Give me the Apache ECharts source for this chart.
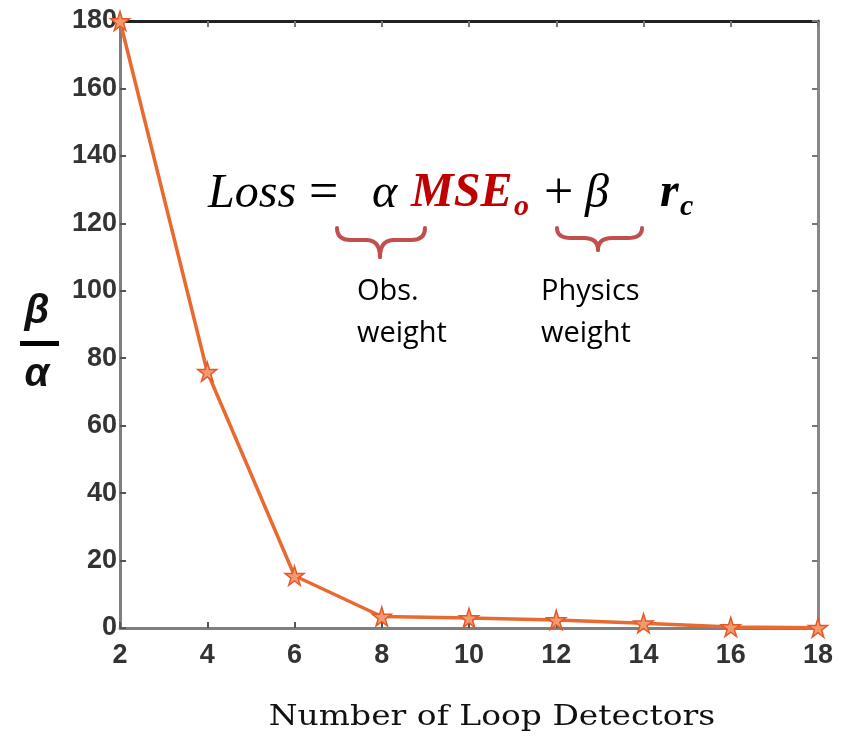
<!DOCTYPE html>
<html><head><meta charset="utf-8">
<script src="https://cdn.jsdelivr.net/npm/echarts@6/dist/echarts.min.js"></script>
<style>html,body{margin:0;padding:0;background:#fff}#c{width:854px;height:749px}</style>
</head><body><div id="c"></div>
<script>
const detectors = [2, 4, 6, 8, 10, 12, 14, 16, 18];
const ratio = [180, 76, 15.5, 3.4, 3.0, 2.4, 1.4, 0.3, 0.1];
const xTicks = [2, 4, 6, 8, 10, 12, 14, 16, 18];
const yTicks = [0, 20, 40, 60, 80, 100, 120, 140, 160, 180];
const xTitle = 'Number of Loop Detectors';

const chart = echarts.init(document.getElementById('c'));
const star = 'path://M50,0 L61,35 L98,35 L68,57 L79,91 L50,70 L21,91 L32,57 L2,35 L39,35 Z';
const tickLbl = {fontFamily:'Liberation Sans, Arial', fontWeight:'bold', fontSize:27, color:'#333'};
const braceColor = '#c0504d';
const serifIt = 'italic 48px "Liberation Serif", "Times New Roman", serif';
const serifR = '52px "Liberation Serif", "Times New Roman", serif';
const serifBI = 'italic bold 48px "Liberation Serif", "Times New Roman", serif';
const serifBIs = 'italic bold 30px "Liberation Serif", "Times New Roman", serif';
const sans = '29px "Open Sans", "Noto Sans", sans-serif';
function t(x, y, text, font, fill, align) {
  return {type:'text', x:x, y:y, z:10, style:{text:text, font:font, fill:fill||'#000', align:align||'left', verticalAlign:'bottom'}};
}
function brace(xl, xm, xr, yt, yh, ytip) {
  const st = {stroke:braceColor, lineWidth:4, fill:null, lineCap:'round'};
  const r = 14;
  return [
    {type:'bezierCurve', z:10, shape:{x1:xl, y1:yt, cpx1:xl, cpy1:yh, x2:xl+r, y2:yh}, style:st},
    {type:'line', z:10, shape:{x1:xl+r, y1:yh, x2:xm-r, y2:yh}, style:st},
    {type:'bezierCurve', z:10, shape:{x1:xm-r, y1:yh, cpx1:xm, cpy1:yh, x2:xm, y2:ytip}, style:st},
    {type:'bezierCurve', z:10, shape:{x1:xm, y1:ytip, cpx1:xm, cpy1:yh, x2:xm+r, y2:yh}, style:st},
    {type:'line', z:10, shape:{x1:xm+r, y1:yh, x2:xr-r, y2:yh}, style:st},
    {type:'bezierCurve', z:10, shape:{x1:xr-r, y1:yh, cpx1:xr, cpy1:yh, x2:xr, y2:yt}, style:st}
  ];
}
chart.setOption({
  animation:false,
  grid:{left:120, right:36, top:21, bottom:121},
  xAxis:[{
    type:'value', position:'bottom', min:xTicks[0], max:xTicks[xTicks.length-1], interval:2,
    axisLine:{onZero:false, lineStyle:{color:'#7f7f7f', width:3}},
    axisTick:{inside:true, length:6, lineStyle:{color:'#555', width:2}},
    axisLabel:Object.assign({margin:14}, tickLbl),
    splitLine:{show:false}
  },{
    type:'value', position:'top', min:xTicks[0], max:xTicks[xTicks.length-1], interval:2,
    axisLine:{onZero:false, lineStyle:{color:'#222', width:3}},
    axisTick:{inside:true, length:6, lineStyle:{color:'#777', width:2}},
    axisLabel:{show:false}, splitLine:{show:false}
  }],
  yAxis:[{
    type:'value', position:'left', min:yTicks[0], max:yTicks[yTicks.length-1], interval:20,
    axisLine:{show:true, onZero:false, lineStyle:{color:'#7f7f7f', width:3}},
    axisTick:{show:true, inside:true, length:6, lineStyle:{color:'#555', width:2}},
    axisLabel:Object.assign({margin:3}, tickLbl),
    splitLine:{show:false}
  },{
    type:'value', position:'right', min:yTicks[0], max:yTicks[yTicks.length-1], interval:20,
    axisLine:{show:true, onZero:false, lineStyle:{color:'#888', width:3}},
    axisTick:{show:true, inside:true, length:6, lineStyle:{color:'#777', width:2}},
    axisLabel:{show:false}, splitLine:{show:false}
  }],
  series:[{
    type:'line', xAxisIndex:0, yAxisIndex:0, data:detectors.map((d,i)=>[d, ratio[i]]),
    symbol:star, symbolSize:19,
    lineStyle:{color:'#e86a30', width:3.5},
    itemStyle:{color:'#f39a6e', borderColor:'#e4582a', borderWidth:1.5},
    z:5
  }],
  graphic:[
    t(208, 218, 'Loss', serifIt),
    t(309, 220, '=', serifR),
    t(372, 218, 'α', serifIt),
    t(411, 218, 'MSE', serifBI, '#c00000'),
    t(514, 222, 'o', serifBIs, '#c00000'),
    t(544, 220, '+', serifR),
    t(585, 218, 'β', serifIt),
    t(660, 218, 'r', serifBI),
    t(680, 222, 'c', serifBIs),
    ...brace(337, 380, 425, 228, 240, 257),
    ...brace(557, 598, 642, 228, 238, 250),
    t(357, 306, 'Obs.', sans),
    t(357, 348, 'weight', sans),
    t(541, 306, 'Physics', sans),
    t(541, 348, 'weight', sans),
    t(37, 332, 'β', 'italic bold 40px "Liberation Sans", Arial, sans-serif', '#111', 'center'),
    {type:'rect', shape:{x:20, y:341, width:39, height:5}, style:{fill:'#000'}},
    t(37, 395, 'α', 'italic bold 40px "Liberation Sans", Arial, sans-serif', '#111', 'center'),
    {type:'text', x:492, y:718, scaleX:1.22, z:10,
     style:{text:xTitle, font:'27px "DejaVu Serif", serif', fill:'#111', align:'center', verticalAlign:'middle'}}
  ]
});
</script></body></html>
